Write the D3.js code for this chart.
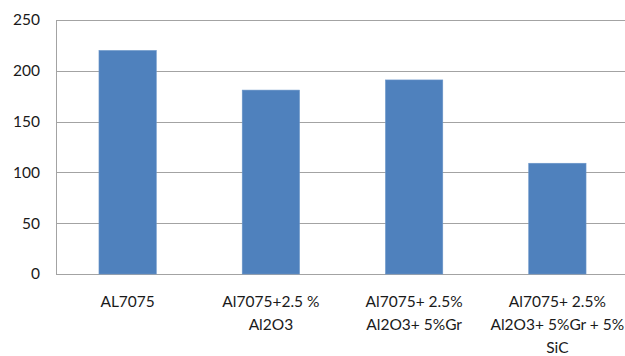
<!DOCTYPE html>
<html>
<head>
<meta charset="utf-8">
<script src="https://cdn.jsdelivr.net/npm/d3@7"></script>
<style>
  html, body { margin: 0; padding: 0; background: #fff; }
  svg { display: block; }
  text { font-family: Lato, "Open Sans", sans-serif; fill: #1a1a1a; }
</style>
</head>
<body>
<div id="chart"></div>
<script>
// Kategorier (linjeskift som i originalen) og verdier
const categories = ["AL7075", "Al7075+2.5 % Al2O3", "Al7075+ 2.5% Al2O3+ 5%Gr", "Al7075+ 2.5% Al2O3+ 5%Gr + 5% SiC"];
const categoryLines = [
  ["AL7075"],
  ["Al7075+2.5 %", "Al2O3"],
  ["Al7075+ 2.5%", "Al2O3+ 5%Gr"],
  ["Al7075+ 2.5%", "Al2O3+ 5%Gr + 5%", "SiC"]
];
const values = [220, 181, 191, 109];
const yTicks = [0, 50, 100, 150, 200, 250];

const width = 625, height = 356;
const margin = { top: 20, right: -4, bottom: 82, left: 56 };
const iw = width - margin.left - margin.right;
const ih = height - margin.top - margin.bottom;

const svg = d3.select("#chart").append("svg")
  .attr("width", width)
  .attr("height", height);

const g = svg.append("g").attr("transform", `translate(${margin.left},${margin.top})`);

const x = d3.scaleBand()
  .domain(categories)
  .range([0, iw])
  .paddingInner(0.6)
  .paddingOuter(0.3);

const y = d3.scaleLinear()
  .domain([0, 250])
  .range([ih, 0]);

// Rutenett
g.append("g")
  .selectAll("line")
  .data(yTicks)
  .join("line")
  .attr("x1", 0).attr("x2", iw)
  .attr("y1", d => Math.round(y(d)) + 0.5)
  .attr("y2", d => Math.round(y(d)) + 0.5)
  .attr("stroke", "#a3a3a3")
  .attr("stroke-width", 1);

// Y-akse
g.append("g")
  .call(d3.axisLeft(y).tickValues(yTicks).tickSize(0).tickPadding(16))
  .call(a => a.select(".domain").attr("stroke", "#a3a3a3").attr("d", `M0.5,${ih + 0.5}V0.5`))
  .call(a => a.selectAll("text").attr("font-size", "15.5px").attr("fill", "#1a1a1a")
    .style("font-family", "Lato, 'Open Sans', sans-serif"));

// Søyler
g.append("g")
  .selectAll("rect")
  .data(values)
  .join("rect")
  .attr("x", (d, i) => x(categories[i]))
  .attr("y", d => y(d))
  .attr("width", x.bandwidth())
  .attr("height", d => ih - y(d))
  .attr("fill", "#4f81bd")
  .attr("stroke", "#6a95c9")
  .attr("stroke-width", 0.6);

// Kategorietiketter
const labels = g.append("g")
  .selectAll("text")
  .data(categories)
  .join("text")
  .attr("text-anchor", "middle")
  .attr("font-size", "15.5px")
  .attr("transform", d => `translate(${x(d) + x.bandwidth() / 2},${ih + 33})`);

labels.each(function (d, i) {
  d3.select(this).selectAll("tspan")
    .data(categoryLines[i])
    .join("tspan")
    .attr("x", 0)
    .attr("y", (t, j) => j * 23)
    .text(t => t);
});
</script>
</body>
</html>
